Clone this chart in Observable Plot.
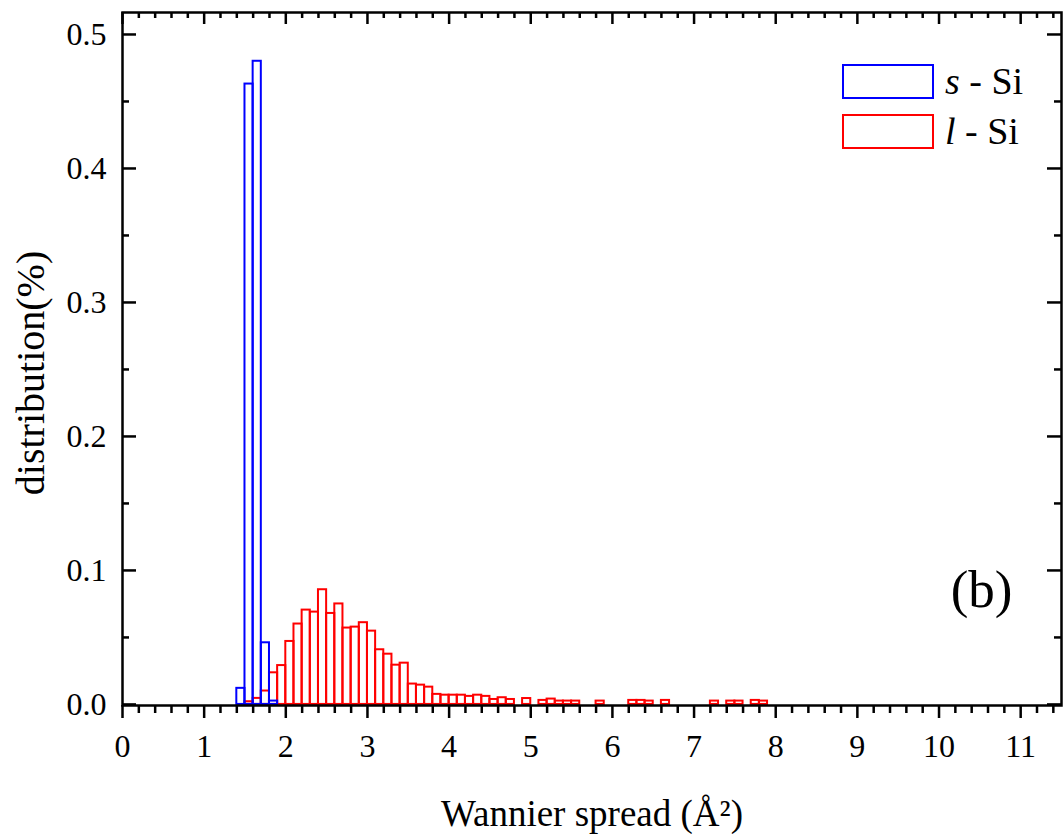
<!DOCTYPE html>
<html>
<head>
<meta charset="utf-8">
<script src="https://cdn.jsdelivr.net/npm/d3@7"></script>
<script src="https://cdn.jsdelivr.net/npm/@observablehq/plot@0.6"></script>
<style>
  html, body { margin: 0; padding: 0; background: white; }
  #wrap { position: relative; width: 1063px; height: 834px; font-family: "Liberation Serif", "DejaVu Serif", serif; }
  .leg { position: absolute; display: flex; align-items: center; height: 35px; line-height: 35px; font-size: 38px; color: black; }
  .leg .sw { width: 88px; height: 31px; border: 2px solid; margin-right: 11px; box-sizing: content-box; }
</style>
</head>
<body>
<div id="wrap"></div>
<script>
// ---- data ----
const binWidth = 0.1;
const sBinStart = [1.4, 1.5, 1.6, 1.7, 1.8];
const sValues   = [0.012, 0.463, 0.480, 0.046, 0.0025];

const lBinStart = [1.5,1.6,1.7,1.8,1.9,2.0,2.1,2.2,2.3,2.4,2.5,2.6,2.7,2.8,2.9,3.0,3.1,3.2,3.3,3.4,
                   3.5,3.6,3.7,3.8,3.9,4.0,4.1,4.2,4.3,4.4,4.5,4.6,4.7,4.8,4.9,5.0,5.1,5.2,5.3,5.4,
                   5.5,5.6,5.7,5.8,5.9,6.0,6.1,6.2,6.3,6.4,6.5,6.6,6.7,6.8,6.9,7.0,7.1,7.2,7.3,7.4,
                   7.5,7.6,7.7,7.8];
const lValues   = [0.002,0.0045,0.010,0.0236,0.029,0.047,0.060,0.0704,0.0689,0.0856,0.0679,0.075,0.057,0.0577,0.061,0.0547,0.0408,0.0375,0.0293,0.0308,
                   0.0152,0.0144,0.0129,0.0075,0.0069,0.0069,0.0069,0.006,0.0069,0.006,0.0037,0.005,0.0037,0,0.0044,0,0.003,0.004,0.0025,0.0025,
                   0.0025,0,0,0.0025,0,0,0,0.003,0.003,0.0025,0,0.003,0,0,0,0,0,0.0025,0,0.0025,
                   0.0025,0,0.003,0.0025];

const xMajor = [0,1,2,3,4,5,6,7,8,9,10,11];
const xMinor = d3.range(0, 11.5, 0.2).filter(v => Math.abs(v - Math.round(v)) > 1e-6);
const yMajor = [0.0, 0.1, 0.2, 0.3, 0.4, 0.5];
const yMinor = [0.05, 0.15, 0.25, 0.35, 0.45];

const seriesNames = ["s", "l"];
const seriesColors = ["#0000ff", "#ff0000"];

const sData = sBinStart.map((x, i) => ({x1: x, x2: x + binWidth, v: sValues[i]})).filter(d => d.v > 0);
const lData = lBinStart.map((x, i) => ({x1: x, x2: x + binWidth, v: lValues[i]})).filter(d => d.v > 0);

// ---- layout ----
const W = 1063, H = 834;
const mL = 122, mR = 2, mT = 12, mB = 129;
const pw = W - mL - mR, ph = H - mT - mB;

const chart = Plot.plot({
  width: W, height: H,
  marginLeft: mL, marginRight: mR, marginTop: mT, marginBottom: mB,
  x: {domain: [0, 11.5]},
  y: {domain: [-0.0008, 0.5164]},
  style: {fontFamily: "Liberation Serif, DejaVu Serif, serif", fontSize: "32px", color: "black", background: "white"},
  marks: [
    Plot.rectY(lData, {x1: "x1", x2: "x2", y1: 0, y2: "v", fill: "none", stroke: seriesColors[1], strokeWidth: 2}),
    Plot.rectY(sData, {x1: "x1", x2: "x2", y1: 0, y2: "v", fill: "none", stroke: seriesColors[0], strokeWidth: 2}),
    Plot.frame({stroke: "black", strokeWidth: 2.5}),
    // bottom axis (outward ticks)
    Plot.axisX(xMajor, {anchor: "bottom", tickSize: 13, tickPadding: 16, strokeWidth: 2.5, fontSize: 32, label: null}),
    Plot.axisX(xMinor, {anchor: "bottom", tickSize: 8, strokeWidth: 2.5, tickFormat: () => "", label: null}),
    // top inward ticks
    Plot.ruleX(xMajor, {insetBottom: ph - 12, stroke: "black", strokeWidth: 2.5}),
    Plot.ruleX(xMinor, {insetBottom: ph - 6, stroke: "black", strokeWidth: 2.5}),
    // left inward ticks + labels
    Plot.ruleY(yMajor, {insetRight: pw - 14, stroke: "black", strokeWidth: 2.5}),
    Plot.ruleY(yMinor, {insetRight: pw - 7, stroke: "black", strokeWidth: 2.5}),
    Plot.axisY(yMajor, {anchor: "left", tickSize: 0, tickPadding: 16, fontSize: 32, tickFormat: d3.format(".1f"), label: null}),
    // right inward ticks
    Plot.ruleY(yMajor, {insetLeft: pw - 14, stroke: "black", strokeWidth: 2.5}),
    Plot.ruleY(yMinor, {insetLeft: pw - 7, stroke: "black", strokeWidth: 2.5}),
    // axis titles
    Plot.text(["Wannier spread (Å²)"], {frameAnchor: "bottom", dy: 120, fontSize: 37, fill: "black"}),
    Plot.text(["distribution(%)"], {frameAnchor: "left", textAnchor: "middle", rotate: -90, dx: -91, dy: 14, fontSize: 40, fill: "black"}),
    Plot.text(["(b)"], {frameAnchor: "bottom-right", textAnchor: "end", dx: -49, dy: -99, fontSize: 53, fill: "black"})
  ]
});

const wrap = document.getElementById("wrap");
wrap.appendChild(chart);

// legend
const legTop = [64, 114];
const legLabels = ["<i>s</i> - Si", "<i>l</i> - Si"];
seriesNames.forEach((n, i) => {
  const d = document.createElement("div");
  d.className = "leg";
  d.style.left = "842px";
  d.style.top = legTop[i] + "px";
  d.innerHTML = `<span class="sw" style="border-color:${seriesColors[i]}"></span><span>${legLabels[i]}</span>`;
  wrap.appendChild(d);
});
</script>
</body>
</html>
